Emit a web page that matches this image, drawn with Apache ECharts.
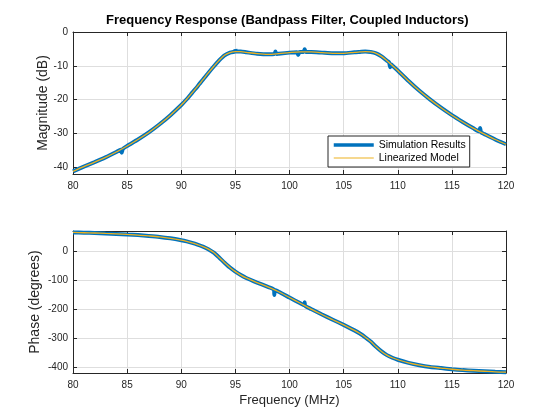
<!DOCTYPE html>
<html>
<head>
    <meta charset="UTF-8">
    <title>Frequency Response</title>
    <script src="https://cdn.jsdelivr.net/npm/echarts@6.0.0/dist/echarts.min.js"></script>
    <style>
        html, body {margin: 0; padding: 0; background: #fff;}
        #main {width: 560px; height: 420px;}
    </style>
</head>
<body>
<div id="main"></div>
<script>
    // model sample frequencies (MHz)
    var freq = [80, 81, 82, 83, 84, 85, 86, 87, 88, 89,
        90, 90.5, 91, 91.5, 92, 92.5, 93, 93.5, 94, 94.5, 95, 95.5, 96,
        97, 98, 99, 100, 101, 102, 103, 104, 105, 106,
        106.5, 107, 107.5, 108, 108.5, 109, 109.5, 110,
        111, 112, 113, 114, 115, 116, 117, 118, 119, 120];
    // linearized model magnitude (dB)
    var modelMag = [-41.2, -39.8, -38.5, -37.1, -35.5, -33.7, -31.8, -29.7, -27.3, -24.6,
        -21.6, -19.9, -18.0, -16.1, -14.1, -12.1, -10.2, -8.4, -6.9, -6.1, -5.8, -5.8, -6.0,
        -6.4, -6.6, -6.4, -6.1, -5.9, -5.9, -6.1, -6.3, -6.3, -6.0,
        -5.9, -5.8, -5.9, -6.3, -7.2, -8.5, -9.9, -11.4,
        -14.5, -17.4, -20.0, -22.4, -24.6, -26.6, -28.5, -30.2, -31.8, -33.2];
    // linearized model phase (degrees)
    var modelPhase = [67, 66, 65, 63.5, 62, 60, 58, 55, 51.5, 46.5,
        40, 36, 31, 25, 18, 9, -3, -20, -38, -55, -69, -81, -91,
        -107, -122, -139, -159, -179, -199, -218, -236, -254, -273,
        -284, -297, -312, -330, -346, -359, -368, -375,
        -386, -394, -400, -404, -408, -411, -413, -415, -417, -418];

    // simulation results follow the model, plus the glitches seen in the measured trace
    var magGlitchFreq = [84.4, 84.5, 84.6, 94.9, 95.0, 95.1, 98.6, 98.7, 98.8,
        100.7, 100.8, 100.9, 101.3, 101.4, 101.5, 109.2, 109.3, 109.4, 117.5, 117.6, 117.7];
    var magGlitch = [-34.8, -35.7, -34.6, -5.85, -5.1, -5.8, -6.55, -5.8, -6.5,
        -6.0, -6.8, -5.95, -5.9, -5.1, -5.9, -9.0, -10.4, -9.6, -29.35, -28.4, -29.7];
    var phaseGlitchFreq = [98.55, 98.6, 98.65, 101.35, 101.4, 101.45];
    var phaseGlitch = [-131, -150, -133, -186, -175, -188];

    var xTicks = {min: 80, max: 120, interval: 5};
    var magRange = {min: -42, max: 0};
    var phaseRange = {min: -421, max: 72};

    var axisColor = '#262626';
    var fontFamily = '"Liberation Sans", Arial, Helvetica, sans-serif';

    function pairs(xs, ys) {
        var out = [];
        for (var i = 0; i < xs.length; i++) {
            out.push([xs[i], ys[i]]);
        }
        return out;
    }

    function withGlitches(xs, ys, gx, gy) {
        var out = pairs(xs, ys).concat(pairs(gx, gy));
        out.sort(function (a, b) { return a[0] - b[0]; });
        return out;
    }

    function xAxisCfg(gridIndex, position, showLabel, name) {
        return {
            type: 'value',
            gridIndex: gridIndex,
            position: position,
            min: xTicks.min,
            max: xTicks.max,
            interval: xTicks.interval,
            name: name || '',
            nameLocation: 'middle',
            nameGap: 21,
            nameMoveOverlap: false,
            nameTextStyle: {color: axisColor, fontSize: 13, fontFamily: fontFamily},
            axisLine: {show: true, onZero: false, lineStyle: {color: axisColor, width: 1}},
            axisTick: {show: true, inside: true, length: 4, lineStyle: {color: axisColor}},
            axisLabel: {show: showLabel, margin: 7, color: axisColor, fontSize: 10, fontFamily: fontFamily},
            splitLine: {show: showLabel, lineStyle: {color: '#dedede', width: 1}}
        };
    }

    function yAxisCfg(gridIndex, position, range, showLabel, name, gap) {
        return {
            type: 'value',
            gridIndex: gridIndex,
            position: position,
            min: range.min,
            max: range.max,
            splitNumber: 5,
            name: name || '',
            nameLocation: 'middle',
            nameGap: gap || 0,
            nameMoveOverlap: false,
            nameTextStyle: {color: axisColor, fontSize: 14, fontFamily: fontFamily},
            axisLine: {show: true, onZero: false, lineStyle: {color: axisColor, width: 1}},
            axisTick: {show: true, inside: true, length: 4, lineStyle: {color: axisColor}},
            axisLabel: {
                show: showLabel, margin: 5, color: axisColor, fontSize: 10, fontFamily: fontFamily,
                showMinLabel: false, showMaxLabel: range.max === 0
            },
            splitLine: {show: showLabel, lineStyle: {color: '#dedede', width: 1}}
        };
    }

    var simStyle = {color: '#0072BD', width: 4};
    var modelStyle = {color: '#EDB120', width: 1.3};

    var myChart = echarts.init(document.getElementById('main'), null, {renderer: 'canvas'});
    var option = {
        backgroundColor: '#fff',
        animation: false,
        title: {
            text: 'Frequency Response (Bandpass Filter, Coupled Inductors)',
            left: 106,
            top: 14,
            padding: 0,
            textStyle: {color: '#000', fontSize: 13, fontWeight: 'bold', fontFamily: fontFamily}
        },
        legend: {
            orient: 'vertical',
            left: 328,
            top: 136,
            padding: [3.5, 4, 3.5, 4],
            itemGap: 2,
            itemWidth: 40,
            itemHeight: 10,
            backgroundColor: '#fff',
            borderColor: axisColor,
            borderWidth: 1,
            borderRadius: 0,
            itemStyle: {opacity: 0},
            textStyle: {color: '#000', fontSize: 10.5, fontFamily: fontFamily},
            data: [
                {name: 'Simulation Results', lineStyle: {width: 3.5, color: simStyle.color}},
                {name: 'Linearized Model', lineStyle: {width: 1.2, color: modelStyle.color}}
            ]
        },
        grid: [
            {left: 73, top: 32, width: 433, height: 142},
            {left: 73, top: 231, width: 433, height: 142}
        ],
        xAxis: [
            xAxisCfg(0, 'bottom', true),
            xAxisCfg(0, 'top', false),
            xAxisCfg(1, 'bottom', true, 'Frequency (MHz)'),
            xAxisCfg(1, 'top', false)
        ],
        yAxis: [
            yAxisCfg(0, 'left', magRange, true, 'Magnitude (dB)', 23),
            yAxisCfg(0, 'right', magRange, false),
            yAxisCfg(1, 'left', phaseRange, true, 'Phase (degrees)', 31),
            yAxisCfg(1, 'right', phaseRange, false)
        ],
        series: [
            {
                name: 'Simulation Results',
                type: 'line',
                xAxisIndex: 0,
                yAxisIndex: 0,
                symbol: 'none',
                smooth: 0.2,
                color: simStyle.color,
                lineStyle: simStyle,
                data: withGlitches(freq, modelMag, magGlitchFreq, magGlitch)
            },
            {
                name: 'Linearized Model',
                type: 'line',
                xAxisIndex: 0,
                yAxisIndex: 0,
                symbol: 'none',
                smooth: 0.3,
                color: modelStyle.color,
                lineStyle: modelStyle,
                data: pairs(freq, modelMag)
            },
            {
                name: 'Simulation Results',
                type: 'line',
                xAxisIndex: 2,
                yAxisIndex: 2,
                symbol: 'none',
                smooth: 0.2,
                color: simStyle.color,
                lineStyle: simStyle,
                data: withGlitches(freq, modelPhase, phaseGlitchFreq, phaseGlitch)
            },
            {
                name: 'Linearized Model',
                type: 'line',
                xAxisIndex: 2,
                yAxisIndex: 2,
                symbol: 'none',
                smooth: 0.3,
                color: modelStyle.color,
                lineStyle: modelStyle,
                data: pairs(freq, modelPhase)
            }
        ]
    };
    myChart.setOption(option);
</script>
</body>
</html>
